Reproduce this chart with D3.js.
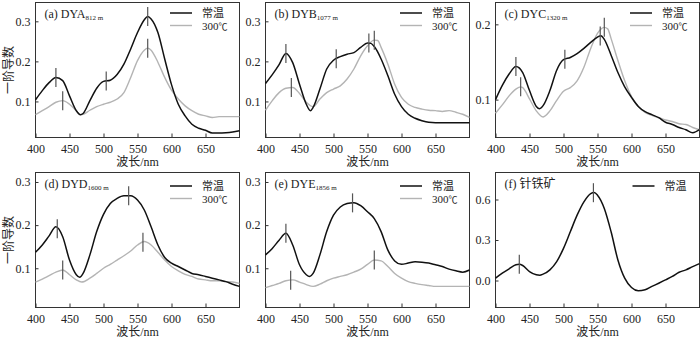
<!DOCTYPE html>
<html>
<head>
<meta charset="utf-8">
<script src="https://cdn.jsdelivr.net/npm/d3@7"></script>
<style>
  body { margin: 0; background: #fff; }
  svg text { font-family: "Liberation Serif", "Noto Sans CJK SC", serif; fill: #222; }
</style>
</head>
<body>
<div id="chart"></div>
<script>
// wavelength ticks shared by all panels
const xTicks = [400, 450, 500, 550, 600, 650];

// (a) DYA 812 m  -- [nm, first derivative]
const aRoom = [[400,0.104],[410,0.127],[420,0.147],[430,0.160],[440,0.152],[450,0.114],[460,0.077],[466,0.067],[470,0.070],[480,0.102],[490,0.133],[500,0.150],[510,0.153],[520,0.167],[530,0.193],[540,0.231],[550,0.272],[560,0.304],[565,0.312],[570,0.306],[580,0.272],[590,0.206],[600,0.142],[610,0.093],[620,0.064],[630,0.043],[640,0.033],[650,0.028],[660,0.021],[670,0.021],[680,0.022],[690,0.024],[700,0.027]];
const aHeat = [[400,0.067],[410,0.077],[420,0.087],[430,0.098],[440,0.102],[450,0.093],[460,0.077],[466,0.067],[470,0.068],[480,0.078],[490,0.087],[500,0.093],[510,0.098],[520,0.106],[530,0.122],[540,0.160],[550,0.202],[560,0.228],[565,0.233],[570,0.228],[580,0.198],[590,0.160],[600,0.128],[610,0.106],[620,0.089],[630,0.077],[640,0.068],[650,0.064],[660,0.060],[670,0.062],[680,0.062],[690,0.062],[700,0.062]];
const aRoomMarks = [430, 504, 565];
const aHeatMarks = [440, 565];

// (b) DYB 1077 m
const bRoom = [[400,0.145],[410,0.167],[420,0.192],[430,0.220],[440,0.197],[450,0.143],[460,0.093],[466,0.077],[470,0.085],[480,0.131],[490,0.181],[500,0.203],[510,0.212],[520,0.218],[530,0.222],[540,0.235],[550,0.246],[555,0.245],[560,0.237],[570,0.206],[580,0.164],[590,0.118],[600,0.087],[610,0.068],[620,0.058],[630,0.052],[640,0.048],[650,0.047],[660,0.047],[680,0.047],[700,0.047]];
const bHeat = [[400,0.078],[410,0.102],[420,0.122],[430,0.133],[440,0.135],[450,0.120],[460,0.098],[470,0.087],[480,0.106],[490,0.122],[500,0.131],[510,0.139],[520,0.156],[530,0.181],[540,0.214],[550,0.239],[560,0.253],[565,0.252],[570,0.235],[580,0.193],[590,0.143],[600,0.110],[610,0.093],[620,0.085],[630,0.081],[640,0.078],[650,0.077],[660,0.075],[670,0.077],[680,0.073],[690,0.068],[700,0.060]];
const bRoomMarks = [430, 504, 552];
const bHeatMarks = [438, 560];

// (c) DYC 1320 m
const cRoom = [[400,0.100],[410,0.119],[420,0.134],[430,0.144],[440,0.136],[450,0.112],[460,0.091],[465,0.088],[470,0.092],[480,0.112],[490,0.139],[500,0.153],[510,0.156],[520,0.161],[530,0.168],[540,0.176],[550,0.183],[555,0.185],[560,0.180],[570,0.159],[580,0.136],[590,0.117],[600,0.103],[610,0.091],[620,0.084],[630,0.080],[640,0.076],[650,0.070],[660,0.067],[670,0.063],[680,0.060],[690,0.056],[700,0.060]];
const cHeat = [[400,0.082],[410,0.093],[420,0.105],[430,0.114],[437,0.117],[440,0.116],[450,0.101],[460,0.085],[470,0.077],[480,0.085],[490,0.099],[500,0.111],[510,0.116],[520,0.125],[530,0.143],[540,0.168],[550,0.188],[560,0.196],[565,0.194],[570,0.181],[580,0.152],[590,0.125],[600,0.104],[610,0.091],[620,0.083],[630,0.079],[640,0.076],[650,0.073],[660,0.071],[670,0.068],[680,0.067],[690,0.063],[700,0.060]];
const cRoomMarks = [430, 502, 554];
const cHeatMarks = [437, 560];

// (d) DYD 1600 m
const dRoom = [[400,0.137],[410,0.154],[420,0.175],[430,0.196],[440,0.173],[450,0.119],[460,0.085],[465,0.079],[470,0.088],[480,0.131],[490,0.185],[500,0.225],[510,0.250],[520,0.262],[530,0.268],[540,0.268],[550,0.258],[560,0.235],[570,0.196],[580,0.154],[590,0.125],[600,0.112],[610,0.104],[620,0.096],[630,0.088],[640,0.085],[650,0.081],[660,0.077],[670,0.073],[680,0.069],[690,0.063],[700,0.058]];
const dHeat = [[400,0.068],[410,0.075],[420,0.083],[430,0.091],[440,0.096],[450,0.085],[460,0.073],[468,0.068],[480,0.077],[490,0.088],[500,0.100],[510,0.109],[520,0.119],[530,0.129],[540,0.140],[550,0.154],[560,0.162],[570,0.154],[580,0.137],[590,0.119],[600,0.104],[610,0.094],[620,0.086],[630,0.081],[640,0.075],[650,0.073],[660,0.071],[670,0.071],[680,0.069],[690,0.068],[700,0.065]];
const dRoomMarks = [432, 537];
const dHeatMarks = [440, 558];

// (e) DYE 1856 m
const eRoom = [[400,0.131],[410,0.146],[420,0.165],[430,0.181],[440,0.154],[450,0.108],[460,0.085],[465,0.081],[470,0.088],[480,0.131],[490,0.185],[500,0.223],[510,0.242],[520,0.250],[530,0.252],[540,0.245],[550,0.231],[560,0.215],[570,0.185],[580,0.142],[590,0.117],[600,0.109],[610,0.112],[620,0.115],[630,0.114],[640,0.112],[650,0.108],[660,0.104],[670,0.098],[680,0.094],[690,0.091],[700,0.096]];
const eHeat = [[400,0.055],[410,0.060],[420,0.065],[430,0.071],[440,0.073],[450,0.068],[460,0.062],[470,0.058],[480,0.063],[490,0.071],[500,0.077],[510,0.081],[520,0.085],[530,0.091],[540,0.098],[550,0.109],[560,0.119],[570,0.117],[580,0.104],[590,0.088],[600,0.077],[610,0.069],[620,0.065],[630,0.062],[640,0.060],[650,0.058],[660,0.058],[680,0.058],[700,0.058]];
const eRoomMarks = [430, 528];
const eHeatMarks = [437, 560];

// (f) goethite
const fRoom = [[400,0.017],[410,0.054],[420,0.086],[430,0.116],[435,0.120],[440,0.111],[450,0.066],[460,0.042],[465,0.039],[470,0.047],[480,0.079],[490,0.140],[500,0.238],[510,0.361],[520,0.484],[530,0.583],[540,0.644],[545,0.652],[550,0.632],[560,0.534],[570,0.361],[580,0.152],[590,0.017],[600,-0.052],[610,-0.076],[620,-0.069],[630,-0.044],[640,-0.020],[650,0.005],[660,0.030],[670,0.061],[680,0.079],[690,0.103],[700,0.125]];
const fRoomMarks = [435, 544];

const panels = [
  {tag: "(a) DYA", sub: "812 m", room: aRoom, heat: aHeat, rm: aRoomMarks, hm: aHeatMarks, y: [0.01, 0.347], yt: [0.1, 0.2, 0.3], col: 0, row: 0},
  {tag: "(b) DYB", sub: "1077 m", room: bRoom, heat: bHeat, rm: bRoomMarks, hm: bHeatMarks, y: [0.01, 0.347], yt: [0.1, 0.2, 0.3], col: 1, row: 0},
  {tag: "(c) DYC", sub: "1320 m", room: cRoom, heat: cHeat, rm: cRoomMarks, hm: cHeatMarks, y: [0.0497, 0.229], yt: [0.1, 0.2], col: 2, row: 0},
  {tag: "(d) DYD", sub: "1600 m", room: dRoom, heat: dHeat, rm: dRoomMarks, hm: dHeatMarks, y: [0.009, 0.322], yt: [0.1, 0.2, 0.3], col: 0, row: 1},
  {tag: "(e) DYE", sub: "1856 m", room: eRoom, heat: eHeat, rm: eRoomMarks, hm: eHeatMarks, y: [0.009, 0.322], yt: [0.1, 0.2, 0.3], col: 1, row: 1},
  {tag: "(f) 针铁矿", sub: "", room: fRoom, heat: null, rm: fRoomMarks, hm: [], y: [-0.2, 0.8], yt: [0.0, 0.3, 0.6], col: 2, row: 1}
];

const colLeft = [35.5, 265.5, 495.5];
const rowTop = [2.5, 172.5];
const pw = 204, ph = 135;
const markHalf = 9.5;

const svg = d3.select("#chart").append("svg")
  .attr("width", 700).attr("height", 337);

panels.forEach(p => {
  const g = svg.append("g")
    .attr("transform", "translate(" + colLeft[p.col] + "," + rowTop[p.row] + ")");

  const x = d3.scaleLinear().domain([400, 700]).range([0, pw]);
  const y = d3.scaleLinear().domain(p.y).range([ph, 0]);

  // bottom axis, ticks pointing inward
  const xa = g.append("g").attr("transform", "translate(0," + ph + ")")
    .call(d3.axisBottom(x).tickValues(xTicks).tickSizeInner(-4).tickSizeOuter(0).tickPadding(7));
  xa.select(".domain").remove();
  xa.selectAll("line").attr("stroke", "#333");
  xa.selectAll("text").style("font-size", "12px");

  const ya = g.append("g")
    .call(d3.axisLeft(y).tickValues(p.yt).tickFormat(d3.format(".1f")).tickSizeInner(-3).tickSizeOuter(0).tickPadding(5));
  ya.select(".domain").remove();
  ya.selectAll("line").attr("stroke", "#333");
  ya.selectAll("text").style("font-size", "12px");

  g.append("rect").attr("width", pw).attr("height", ph)
    .attr("fill", "none").attr("stroke", "#333").attr("stroke-width", 1);

  const line = d3.line()
    .x(d => x(d[0])).y(d => y(d[1]))
    .curve(d3.curveMonotoneX);

  const valueAt = (data, nm) => {
    const i = d3.bisector(d => d[0]).left(data, nm);
    if (i <= 0) return data[0][1];
    if (i >= data.length) return data[data.length - 1][1];
    const a = data[i - 1], b = data[i];
    return a[1] + (b[1] - a[1]) * (nm - a[0]) / (b[0] - a[0]);
  };

  if (p.heat) {
    g.append("path").datum(p.heat).attr("d", line)
      .attr("fill", "none").attr("stroke", "#b4b4b4").attr("stroke-width", 1.4);
  }
  g.append("path").datum(p.room).attr("d", line)
    .attr("fill", "none").attr("stroke", "#111").attr("stroke-width", 1.5);

  // peak markers
  const marks = p.rm.map(nm => ({nm, v: valueAt(p.room, nm)}))
    .concat(p.heat ? p.hm.map(nm => ({nm, v: valueAt(p.heat, nm)})) : []);
  g.selectAll(".mk").data(marks).enter().append("line")
    .attr("x1", d => x(d.nm)).attr("x2", d => x(d.nm))
    .attr("y1", d => y(d.v) - markHalf).attr("y2", d => y(d.v) + markHalf)
    .attr("stroke", "#555").attr("stroke-width", 1.2);

  // panel label
  const lab = g.append("text").attr("x", 9).attr("y", 15).style("font-size", "12px");
  lab.append("tspan").text(p.tag);
  if (p.sub) lab.append("tspan").attr("dy", 2).style("font-size", "7px").text(p.sub);

  // legend
  const ly = p.row === 0 ? 10.5 : 13.5;
  const lx = p.heat ? 134.5 : 137;
  g.append("line").attr("x1", lx).attr("x2", lx + 22).attr("y1", ly).attr("y2", ly)
    .attr("stroke", "#111").attr("stroke-width", 1.5);
  g.append("text").attr("x", lx + 32).attr("y", ly + 4).style("font-size", "11px").text("常温");
  if (p.heat) {
    g.append("line").attr("x1", lx).attr("x2", lx + 22).attr("y1", ly + 12.5).attr("y2", ly + 12.5)
      .attr("stroke", "#b4b4b4").attr("stroke-width", 1.4);
    const t = g.append("text").attr("x", lx + 32).attr("y", ly + 16.5).style("font-size", "11px");
    t.append("tspan").text("300");
    t.append("tspan").style("font-size", "9px").text("℃");
  }

  // axis titles
  g.append("text").attr("x", pw / 2).attr("y", ph + 28).attr("text-anchor", "middle")
    .style("font-size", "12px").text("波长/nm");
  if (p.col === 0) {
    g.append("text").attr("transform", "translate(-22.5," + (ph / 2) + ") rotate(-90)")
      .attr("text-anchor", "middle").style("font-size", "12px").text("一阶导数");
  }
});
</script>
</body>
</html>
